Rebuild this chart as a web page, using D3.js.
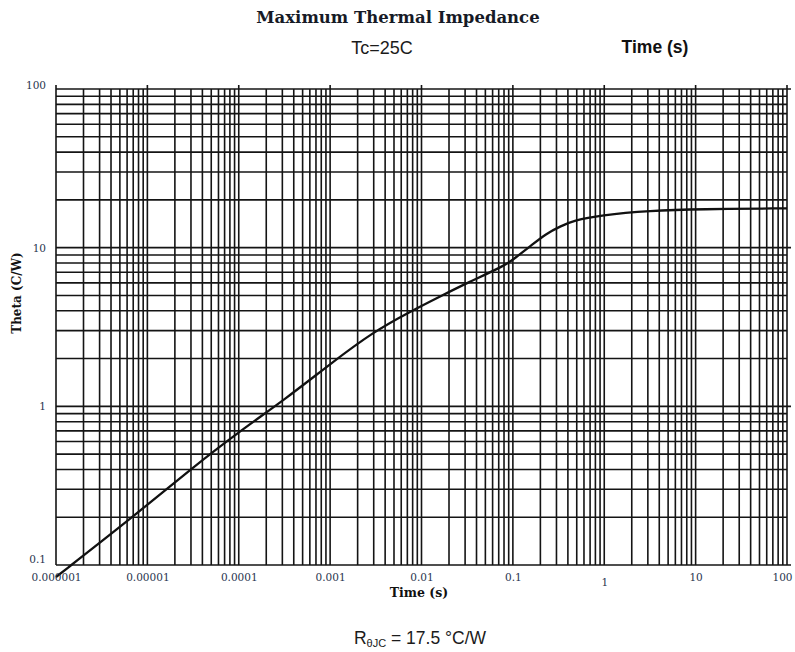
<!DOCTYPE html>
<html>
<head>
<meta charset="utf-8">
<script src="https://cdn.jsdelivr.net/npm/d3@7"></script>
<style>
  body { margin: 0; background: #fff; }
  svg { display: block; }
</style>
</head>
<body>
<div class="chart"></div>
<script>
// time (s) vs thermal impedance (C/W)
var timeVals  = [1e-6, 6.9e-6, 3.1e-5, 1e-4, 3.3e-4, 1e-3, 3e-3, 7.5e-3, 0.0173, 0.031, 0.085, 0.11, 0.153, 0.233, 0.33, 0.46, 0.9, 3.2, 11, 100];
var thetaVals = [0.084, 0.2, 0.41, 0.69, 1.12, 1.85, 2.96, 3.95, 5.04, 5.97, 7.78, 8.78, 10.15, 12.3, 13.6, 14.8, 16.0, 17.1, 17.5, 17.7];

var xTickVals   = [1e-6, 1e-5, 1e-4, 1e-3, 1e-2, 1e-1, 1, 10, 100];
var xTickLabels = ["0.000001", "0.00001", "0.0001", "0.001", "0.01", "0.1", "1", "10", "100"];
var yTickVals   = [0.1, 1, 10, 100];
var yTickLabels = ["0.1", "1", "10", "100"];

var W = 795, H = 652;
var plotL = 56, plotR = 787, plotT = 89, plotB = 565;

var svg = d3.select(".chart").append("svg")
  .attr("width", W)
  .attr("height", H);

var x = d3.scaleLog().domain([1e-6, 100]).range([plotL, plotR]);
var y = d3.scaleLog().domain([0.1, 100]).range([plotB, plotT]);

var gridColor = "#141414";

// vertical grid (1..9 per decade)
svg.append("g").selectAll("line")
  .data(x.ticks())
  .enter().append("line")
    .attr("x1", function(d){ return x(d); })
    .attr("x2", function(d){ return x(d); })
    .attr("y1", function(d){ return xTickVals.indexOf(d) >= 0 ? plotT - 4 : plotT; })
    .attr("y2", plotB)
    .attr("stroke", gridColor)
    .attr("stroke-width", 1.6);

// horizontal grid
svg.append("g").selectAll("line")
  .data(y.ticks())
  .enter().append("line")
    .attr("y1", function(d){ return y(d); })
    .attr("y2", function(d){ return y(d); })
    .attr("x1", plotL)
    .attr("x2", function(d){ return yTickVals.indexOf(d) >= 0 ? plotR + 4 : plotR; })
    .attr("stroke", gridColor)
    .attr("stroke-width", 1.6);

// the curve
var line = d3.line()
  .x(function(d){ return x(d[0]); })
  .y(function(d){ return y(d[1]); })
  .curve(d3.curveBasis);

svg.append("path")
  .datum(d3.zip(timeVals, thetaVals))
  .attr("d", line)
  .attr("fill", "none")
  .attr("stroke", "#111")
  .attr("stroke-width", 2.3);

// axes (labels only)
var xAxis = d3.axisBottom(x)
  .tickValues(xTickVals)
  .tickFormat(function(d, i){ return xTickLabels[i]; })
  .tickSize(0);

var gx = svg.append("g")
  .attr("transform", "translate(0," + plotB + ")")
  .call(xAxis);
gx.select(".domain").remove();
gx.selectAll("text")
  .attr("y", 16)
  .attr("dy", function(d){ return d === 1 ? "5px" : "0px"; })
  .style("font-family", "DejaVu Serif")
  .style("font-size", "10.5px")
  .attr("fill", "#28344e");
gx.selectAll("text").filter(function(d){ return d === 100; })
  .attr("text-anchor", "end")
  .attr("x", 5);

var yAxis = d3.axisLeft(y)
  .tickValues(yTickVals)
  .tickFormat(function(d, i){ return yTickLabels[i]; })
  .tickSize(0);

var gy = svg.append("g")
  .attr("transform", "translate(46,0)")
  .call(yAxis);
gy.select(".domain").remove();
gy.selectAll("text")
  .attr("x", 0)
  .attr("dy", function(d){ return d === 100 ? "-0.05em" : d === 0.1 ? "-0.2em" : "0.32em"; })
  .style("font-family", "DejaVu Serif")
  .style("font-size", "10.5px")
  .attr("fill", "#28344e");

// titles
svg.append("text")
  .attr("x", 398).attr("y", 23)
  .attr("text-anchor", "middle")
  .style("font-family", "DejaVu Serif")
  .style("font-weight", "bold")
  .style("font-size", "16.5px")
  .attr("fill", "#161a26")
  .text("Maximum Thermal Impedance");

svg.append("text")
  .attr("x", 382).attr("y", 54)
  .attr("text-anchor", "middle")
  .style("font-family", "Liberation Sans")
  .style("font-size", "18px")
  .attr("fill", "#1b1b1b")
  .text("Tc=25C");

svg.append("text")
  .attr("x", 655).attr("y", 53)
  .attr("text-anchor", "middle")
  .style("font-family", "Liberation Sans")
  .style("font-weight", "bold")
  .style("font-size", "17.5px")
  .attr("fill", "#111")
  .text("Time (s)");

svg.append("text")
  .attr("x", 419).attr("y", 597)
  .attr("text-anchor", "middle")
  .style("font-family", "DejaVu Serif")
  .style("font-weight", "bold")
  .style("font-size", "12.5px")
  .attr("fill", "#111")
  .text("Time (s)");

svg.append("text")
  .attr("transform", "translate(21,293) rotate(-90)")
  .attr("text-anchor", "middle")
  .style("font-family", "DejaVu Serif")
  .style("font-weight", "bold")
  .style("font-size", "12px")
  .attr("fill", "#111")
  .text("Theta (C/W)");

var rth = svg.append("text")
  .attr("x", 420).attr("y", 644)
  .attr("text-anchor", "middle")
  .style("font-family", "Liberation Sans")
  .style("font-size", "17.5px")
  .attr("fill", "#1b1b1b");
rth.append("tspan").text("R");
rth.append("tspan").attr("dy", 3).style("font-size", "11px").text("θJC");
rth.append("tspan").attr("dy", -3).text(" = 17.5 °C/W");
</script>
</body>
</html>
